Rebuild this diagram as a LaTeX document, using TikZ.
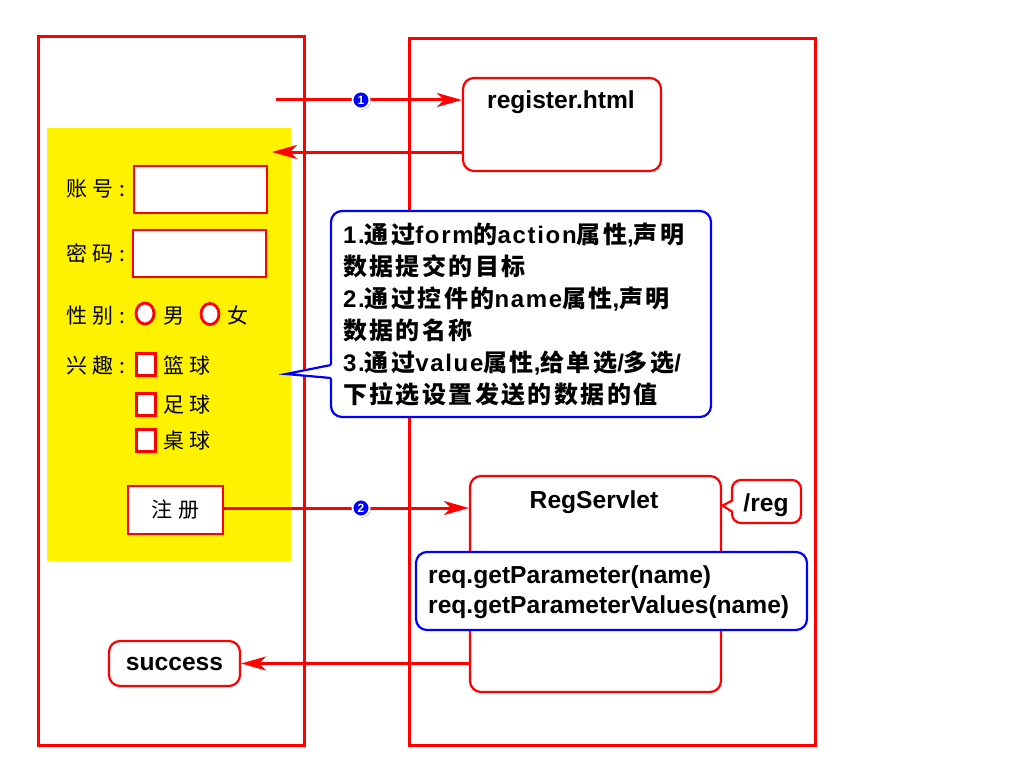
\documentclass[tikz,border=0pt]{standalone}
\usepackage{fontspec}
\setmainfont{Liberation Sans}
\newfontfamily\latsp{Liberation Sans}[LetterSpace=7]
\newfontfamily\cjk{Noto Sans CJK SC}[LetterSpace=10]
\newfontfamily\cjkf{Noto Sans CJK SC}[LetterSpace=26]
\usetikzlibrary{arrows.meta,shapes.geometric,shadows}
\newcommand\C[1]{{\cjk #1}}
\begin{document}
\begin{tikzpicture}[x=1pt,y=-1pt,
  frame/.style={draw=red,line width=3pt,inner sep=0pt},
  rbox/.style={draw=red,line width=2.2pt,fill=white,rounded corners=11pt,inner sep=0pt},
  bbox/.style={draw=blue,line width=2.2pt,fill=white,rounded corners=11pt,inner sep=0pt},
  fieldbox/.style={draw=red,line width=2.2pt,fill=white,inner sep=0pt},
  tick/.style={draw=red,line width=2.8pt,fill=white,inner sep=0pt,minimum width=19pt,minimum height=22pt},
  radio/.style={ellipse,draw=red,line width=2.8pt,fill=white,inner sep=0pt,minimum width=18pt,minimum height=21pt},
  arr/.style={draw=red,line width=3pt,-{Stealth[length=25pt,width=14pt,inset=7pt]}},
  num/.style={circle,fill=blue,draw=white,line width=1.8pt,inner sep=0pt,minimum size=17pt,text=white,font=\bfseries\fontsize{12}{12}\selectfont,drop shadow={shadow xshift=1.3pt,shadow yshift=-1.3pt,opacity=0.55}},
  lat/.style={font=\bfseries\fontsize{24.6}{30}\selectfont,inner sep=0pt},
  frm/.style={font=\cjkf\fontsize{21}{21}\selectfont,inner sep=0pt}
]
\useasboundingbox[fill=white] (0,0) rectangle (1024,781);
% frames
\node[frame,minimum width=266pt,minimum height=708pt] (client) at (171,391) {};
\node[frame,minimum width=406pt,minimum height=706pt] (server) at (612,392) {};
% form
\node[fill=yellow,inner sep=0pt,minimum width=244pt,minimum height=433pt] (form) at (169,344.5) {};
\node[frm,anchor=base west] (lacc) at (66,196) {账号:};
\node[fieldbox,minimum width=133pt,minimum height=47pt] (facc) at (200.5,189.5) {};
\node[frm,anchor=base west] (lpwd) at (66,261) {密码:};
\node[fieldbox,minimum width=133pt,minimum height=47pt] (fpwd) at (199.5,253.5) {};
\node[frm,anchor=base west] (lsex) at (66,323) {性别:};
\node[radio] (r1) at (145,313.5) {};
\node[frm,anchor=base west] (lm) at (163,323) {男};
\node[radio] (r2) at (210,314) {};
\node[frm,anchor=base west] (lf) at (227,323) {女};
\node[frm,anchor=base west] (lhob) at (66,373) {兴趣:};
\node[tick] (c1) at (146,364.5) {};
\node[frm,anchor=base west] (lc1) at (163,373) {篮球};
\node[tick] (c2) at (146,404.5) {};
\node[frm,anchor=base west] (lc2) at (163,412) {足球};
\node[tick] (c3) at (146,440.5) {};
\node[frm,anchor=base west] (lc3) at (163,448) {桌球};
\node[fieldbox,frm,minimum width=95pt,minimum height=48pt] (btn) at (175.5,510) {注册};
% register.html
\node[rbox,minimum width=198pt,minimum height=93pt] (reg) at (562,124.5) {};
\node[lat,anchor=base] (regt) at (561,109) {register.html};
% note callout
\node[bbox,minimum width=380pt,minimum height=206pt] (note) at (521,314) {};
\fill[white] (333.5,364.5) -- (286,374) -- (333.5,378.5) -- cycle;
\draw[blue,line width=2.2pt,line join=miter] (331,365) -- (286,374) -- (331,378);
\node[font=\latsp\bfseries\fontsize{24}{32}\selectfont,align=left,anchor=west,inner sep=0pt] (notet) at (343,315)
 {1.\C{通过}form\C{的}action\C{属性},\C{声明}\\
  \C{数据提交的目标}\\
  2.\C{通过控件的}name\C{属性},\C{声明}\\
  \C{数据的名称}\\
  3.\C{通过}value\C{属性},\C{给单选}/\C{多选}/\\
  \C{下拉选设置发送的数据的值}};
% servlet
\node[rbox,minimum width=251pt,minimum height=216pt] (servlet) at (595.5,584) {};
\node[lat,anchor=base] (servt) at (594,508) {RegServlet};
\node[rbox,rounded corners=9pt,minimum width=69pt,minimum height=43pt] (regc) at (766.5,501.5) {};
\fill[white] (734.5,500.5) -- (722.5,505.5) -- (734.5,511.5) -- cycle;
\draw[red,line width=2.2pt,line join=miter] (732,500.7) -- (722.5,505.5) -- (732,511.7);
\node[lat,anchor=base] (regct) at (766,511) {/reg};
\node[bbox,minimum width=391pt,minimum height=78pt] (api) at (611.5,591) {};
\node[lat,anchor=base west] (api1) at (428,583) {req.getParameter(name)};
\node[lat,anchor=base west] (api2) at (428,613) {req.getParameterValues(name)};
% success
\node[rbox,lat,minimum width=131pt,minimum height=45pt] (succ) at (174.5,663.5) {success};
% arrows
\coordinate (a1s) at (276,100);
\coordinate (a2e) at (272,152);
\draw[arr] (a1s) -- (a1s -| reg.west);
\draw[arr] (a2e -| reg.west) -- (a2e);
\draw[arr] ([yshift=2pt]btn.east) -- ([yshift=2pt]btn.east -| servlet.west);
\draw[arr] (succ.east -| servlet.west) -- (succ.east);
\node[num] (n1) at (361,100) {1};
\node[num] (n2) at (361,508) {2};
\end{tikzpicture}
\end{document}
